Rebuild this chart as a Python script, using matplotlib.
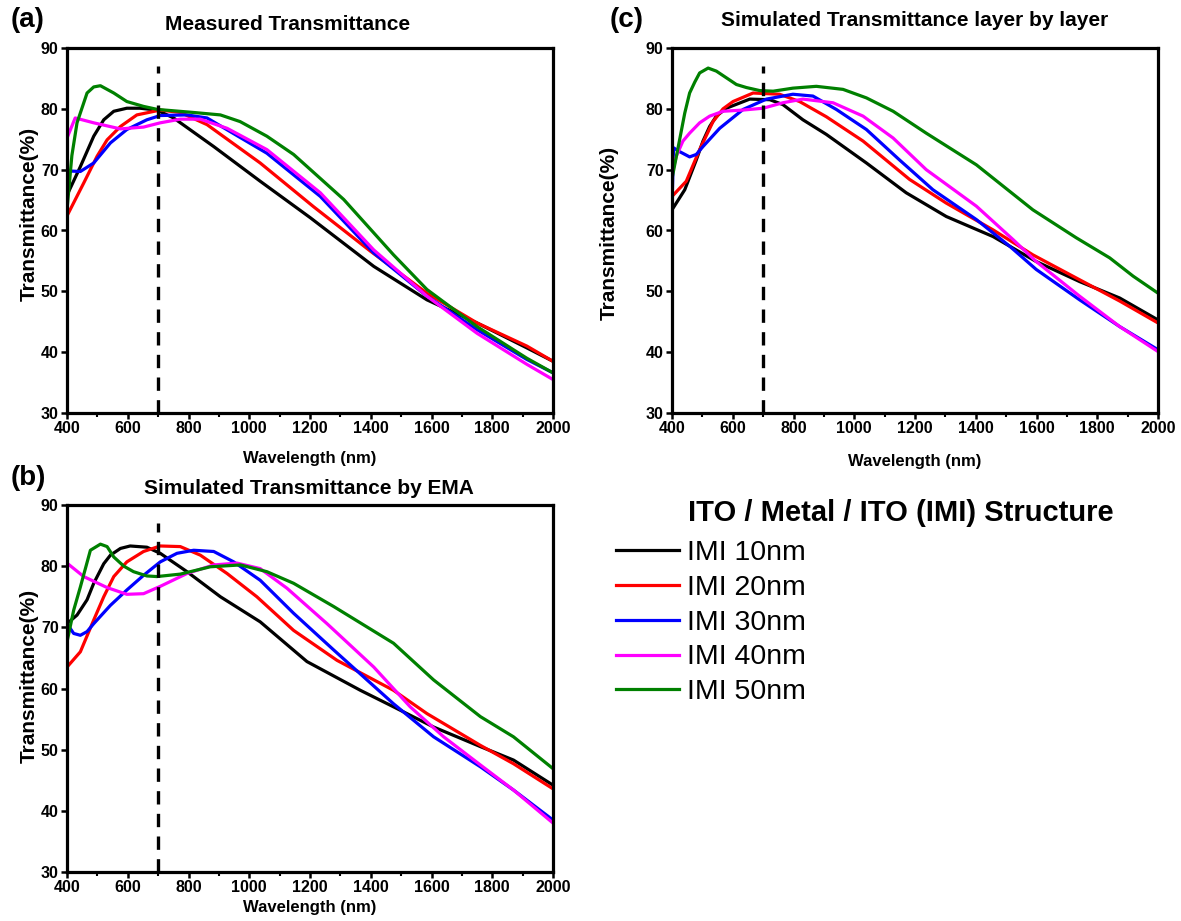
import matplotlib
matplotlib.use("Agg")
from matplotlib import pyplot as plt

plt.rcParams["font.family"] = ["Liberation Sans", "DejaVu Sans"]

W, H = 1181, 921

labels = ["IMI 10nm", "IMI 20nm", "IMI 30nm", "IMI 40nm", "IMI 50nm"]
colors = ["black", "#ff0000", "#0000ff", "#ff00ff", "#008000"]

# (a) measured
a_x10 = [400, 444, 488, 521, 554, 597, 640, 696, 751, 883, 1036, 1201, 1410, 1585, 1750, 1914, 2000]
a_y10 = [65.8, 70.5, 75.5, 78.2, 79.6, 80.1, 80.1, 79.8, 78.5, 73.8, 68.1, 62.1, 54.1, 48.6, 44.8, 40.7, 38.5]
a_x20 = [400, 455, 499, 532, 576, 630, 707, 773, 861, 1036, 1212, 1399, 1585, 1750, 1914, 2000]
a_y20 = [62.4, 67.8, 72.2, 74.9, 77.1, 79.0, 79.8, 79.4, 77.4, 71.1, 63.9, 56.6, 49.7, 44.8, 41.0, 38.5]
a_x30 = [400, 444, 488, 543, 597, 663, 707, 795, 861, 1058, 1234, 1410, 1585, 1750, 1914, 2000]
a_y30 = [69.8, 69.7, 71.1, 74.4, 76.6, 78.2, 78.9, 79.0, 78.5, 72.7, 65.6, 56.3, 49.2, 43.7, 38.8, 36.6]
a_x40 = [400, 427, 488, 576, 652, 707, 773, 839, 927, 1058, 1234, 1410, 1585, 1750, 1914, 2000]
a_y40 = [75.2, 78.5, 77.7, 76.7, 77.0, 77.7, 78.3, 78.3, 76.8, 73.3, 66.2, 56.8, 49.2, 43.1, 38.0, 35.5]
a_x50 = [400, 416, 433, 466, 488, 510, 554, 597, 652, 698, 817, 905, 970, 1058, 1146, 1311, 1475, 1585, 1750, 1914, 2000]
a_y50 = [63.4, 72.3, 77.7, 82.6, 83.6, 83.8, 82.6, 81.2, 80.4, 79.9, 79.4, 79.0, 77.9, 75.5, 72.5, 65.1, 56.0, 50.3, 44.2, 39.0, 36.6]

# (b) simulated by EMA
b_x10 = [400, 433, 466, 488, 521, 543, 576, 608, 663, 707, 795, 905, 1036, 1190, 1366, 1475, 1607, 1761, 1870, 2000]
b_y10 = [70.6, 72.0, 74.5, 77.2, 80.4, 81.8, 82.9, 83.3, 83.1, 82.1, 79.1, 75.0, 70.9, 64.4, 59.7, 57.0, 53.7, 50.5, 48.3, 44.2]
b_x20 = [400, 444, 488, 521, 554, 597, 652, 707, 773, 839, 927, 1025, 1146, 1289, 1475, 1585, 1761, 1870, 2000]
b_y20 = [63.5, 66.0, 71.2, 75.0, 78.3, 80.7, 82.4, 83.3, 83.2, 81.8, 78.8, 75.0, 69.5, 64.6, 59.7, 55.9, 50.7, 47.7, 43.6]
b_x30 = [400, 422, 444, 466, 488, 543, 597, 652, 707, 762, 817, 883, 949, 1036, 1146, 1278, 1475, 1607, 1761, 1870, 2000]
b_y30 = [70.6, 69.0, 68.7, 69.3, 70.6, 73.6, 76.1, 78.5, 80.7, 82.1, 82.6, 82.4, 80.7, 77.7, 72.3, 66.3, 57.5, 52.1, 47.2, 43.4, 38.5]
b_x40 = [400, 455, 532, 597, 652, 707, 795, 883, 960, 1036, 1124, 1256, 1410, 1530, 1640, 1761, 1870, 2000]
b_y40 = [80.5, 78.3, 76.5, 75.4, 75.5, 76.7, 78.8, 80.2, 80.5, 79.6, 76.4, 70.6, 63.5, 57.0, 52.1, 47.5, 43.4, 38.0]
b_x50 = [400, 422, 444, 477, 510, 532, 554, 587, 619, 663, 696, 773, 872, 971, 1058, 1146, 1278, 1475, 1607, 1761, 1870, 2000]
b_y50 = [67.6, 72.8, 76.6, 82.6, 83.6, 83.2, 81.5, 80.0, 79.1, 78.4, 78.3, 78.7, 79.9, 80.2, 79.1, 77.2, 73.4, 67.4, 61.4, 55.4, 52.1, 46.9]

# (c) simulated layer by layer
c_x10 = [400, 442, 480, 502, 524, 546, 579, 656, 722, 765, 831, 908, 1040, 1171, 1303, 1457, 1599, 1742, 1874, 2000]
c_y10 = [63.4, 66.7, 71.6, 74.7, 77.1, 78.8, 80.1, 81.6, 81.5, 80.7, 78.2, 75.8, 71.1, 66.2, 62.3, 59.0, 54.9, 51.6, 48.9, 45.3]
c_x20 = [400, 447, 491, 535, 568, 601, 634, 667, 754, 820, 908, 1029, 1182, 1303, 1457, 1588, 1742, 1874, 2000]
c_y20 = [65.6, 68.1, 73.3, 77.9, 80.0, 81.2, 81.9, 82.6, 82.4, 81.2, 78.7, 74.7, 68.4, 64.5, 60.1, 56.0, 51.9, 48.4, 44.8]
c_x30 = [400, 405, 420, 458, 480, 502, 557, 634, 711, 798, 864, 941, 1040, 1149, 1259, 1402, 1512, 1599, 1742, 1874, 2000]
c_y30 = [64.0, 73.6, 73.1, 72.1, 72.5, 73.8, 76.8, 79.9, 81.6, 82.4, 82.1, 79.9, 76.6, 71.6, 66.7, 61.8, 57.4, 53.6, 48.6, 44.2, 40.4]
c_x40 = [400, 414, 436, 458, 491, 524, 568, 634, 700, 765, 831, 930, 1029, 1128, 1237, 1402, 1523, 1599, 1742, 1874, 2000]
c_y40 = [69.2, 72.2, 74.7, 76.0, 77.7, 78.8, 79.6, 79.8, 80.1, 81.0, 81.6, 81.0, 78.8, 75.2, 70.0, 64.0, 58.5, 54.9, 49.2, 44.2, 40.1]
c_x50 = [400, 425, 442, 458, 475, 491, 519, 546, 579, 612, 645, 689, 733, 798, 875, 963, 1040, 1128, 1237, 1402, 1588, 1731, 1841, 1918, 2000]
c_y50 = [68.5, 74.9, 79.3, 82.6, 84.4, 85.9, 86.7, 86.2, 85.1, 84.0, 83.5, 83.0, 82.9, 83.4, 83.7, 83.2, 81.8, 79.6, 76.0, 70.8, 63.4, 58.8, 55.5, 52.5, 49.7]

xticks = [400, 600, 800, 1000, 1200, 1400, 1600, 1800, 2000]
yticks = [30, 40, 50, 60, 70, 80, 90]


def rect(l, t, r, b):
    return [l / W, 1 - b / H, (r - l) / W, (b - t) / H]


def ftext(x, y, s, **kw):
    fig.text(x / W, 1 - y / H, s, **kw)


def setup(ax, curves):
    for (x, y), c, lab in zip(curves, colors, labels):
        ax.plot(x, y, color=c, lw=2.3, label=lab, solid_joinstyle="round")
    ax.plot([700, 700], [30, 87], color="black", lw=2.4, ls=(0, (4, 2.8)))
    ax.set_xlim(400, 2000)
    ax.set_ylim(30, 90)
    ax.set_xticks(xticks)
    ax.set_xticks(range(500, 2000, 200), minor=True)
    ax.set_yticks(yticks)
    for s in ax.spines.values():
        s.set_linewidth(2.3)
    ax.tick_params(which="major", direction="out", length=4, width=1.8, labelsize=11.5, pad=2)
    ax.tick_params(which="minor", direction="out", length=3, width=1.5)
    for t in ax.get_xticklabels() + ax.get_yticklabels():
        t.set_fontweight("bold")


fig = plt.figure(figsize=(W / 100, H / 100), dpi=100)

ax_a = fig.add_axes(rect(67, 48, 553, 413))
setup(ax_a, [(a_x10, a_y10), (a_x20, a_y20), (a_x30, a_y30), (a_x40, a_y40), (a_x50, a_y50)])
ax_b = fig.add_axes(rect(67, 505, 553, 872))
setup(ax_b, [(b_x10, b_y10), (b_x20, b_y20), (b_x30, b_y30), (b_x40, b_y40), (b_x50, b_y50)])
ax_c = fig.add_axes(rect(672, 48, 1158, 413))
setup(ax_c, [(c_x10, c_y10), (c_x20, c_y20), (c_x30, c_y30), (c_x40, c_y40), (c_x50, c_y50)])

bold = dict(fontweight="bold", ha="center", va="center")
ftext(28, 20, "(a)", fontsize=20, **bold)
ftext(28, 478, "(b)", fontsize=20, **bold)
ftext(627, 20, "(c)", fontsize=20, **bold)

ftext(288, 25, "Measured Transmittance", fontsize=15, **bold)
ftext(309, 488, "Simulated Transmittance by EMA", fontsize=15, **bold)
ftext(915, 21, "Simulated Transmittance layer by layer", fontsize=15, **bold)

ftext(29, 214, "Transmittance(%)", fontsize=15, rotation=90, **bold)
ftext(29, 676, "Transmittance(%)", fontsize=15, rotation=90, **bold)
ftext(609, 233, "Transmittance(%)", fontsize=15, rotation=90, **bold)

ftext(310, 458, "Wavelength (nm)", fontsize=12, **bold)
ftext(310, 907, "Wavelength (nm)", fontsize=12, **bold)
ftext(915, 461, "Wavelength (nm)", fontsize=12, **bold)

ftext(688, 513, "ITO / Metal / ITO (IMI) Structure", fontsize=21, fontweight="bold",
      ha="left", va="center")
handles, labs = ax_a.get_legend_handles_labels()
fig.legend(handles, labs, loc="upper left", bbox_to_anchor=(616 / W, 1 - 540 / H),
           frameon=False, fontsize=20.5, handlelength=2.2, handletextpad=0.3,
           labelspacing=0.31, borderpad=0, borderaxespad=0)

fig.savefig("out.png", dpi=100)
